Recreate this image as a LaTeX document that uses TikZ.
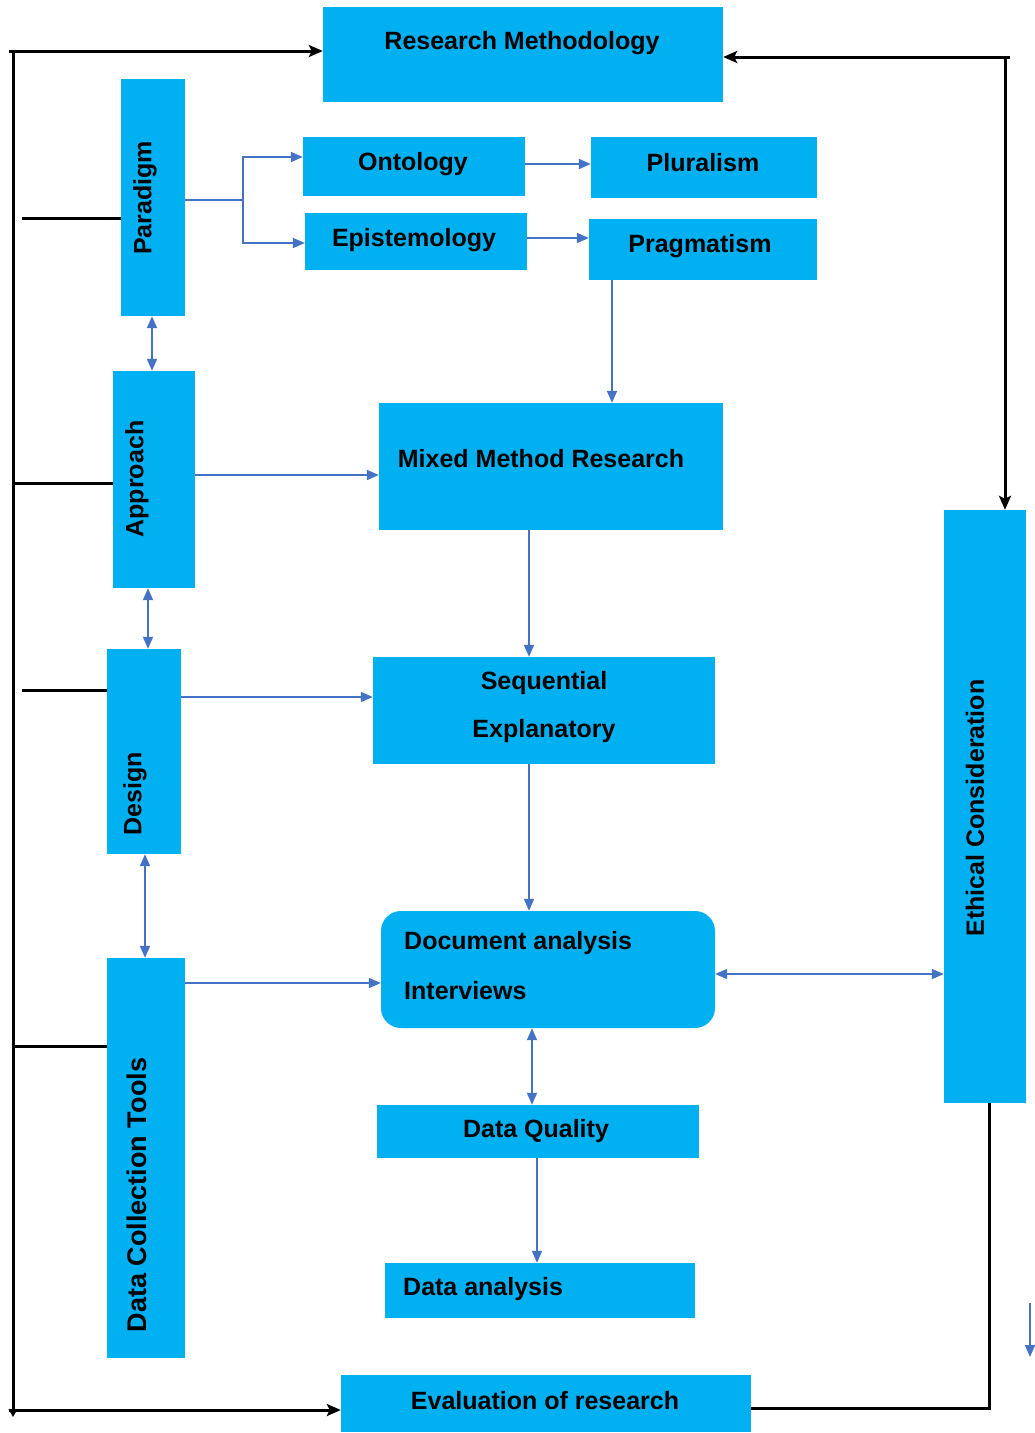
\documentclass[tikz,border=0pt]{standalone}
\usepackage{fontspec}
\setmainfont{Liberation Sans}
\usetikzlibrary{arrows.meta}
\definecolor{boxblue}{HTML}{00B0F0}
\definecolor{lineblue}{HTML}{4472C4}
\begin{document}
\begin{tikzpicture}[x=1pt,y=-1pt,
  box/.style={fill=boxblue, draw=none, inner sep=0pt, anchor=center},
  txt/.style={font=\fontsize{25}{48}\selectfont\bfseries, inner sep=0pt, text=black},
  blk/.style={draw=black, line width=3pt},
  blkarr/.style={blk, -{Stealth[length=14pt,width=12pt,inset=3pt]}},
  bl/.style={draw=lineblue, line width=1.8pt},
  blarr/.style={bl, -{Triangle[length=12pt,width=10pt]}},
  bldbl/.style={bl, {Triangle[length=12pt,width=10pt]}-{Triangle[length=12pt,width=10pt]}},
]
\useasboundingbox[fill=white] (0,0) rectangle (1034,1433);

% boxes
\node[box, minimum width=400pt, minimum height=95pt] (rm) at (523,54.5) {};
\node[txt] (rmt) at (522,43) {Research Methodology};
\node[box, minimum width=64pt, minimum height=237pt] (par) at (153,197.5) {};
\node[txt, rotate=90] (part) at (145,198) {Paradigm};
\node[box, minimum width=222pt, minimum height=59pt] (ont) at (414,166.5) {};
\node[txt] (ontt) at (413,164) {Ontology};
\node[box, minimum width=222pt, minimum height=57pt] (epi) at (416,241.5) {};
\node[txt] (epit) at (414,240) {Epistemology};
\node[box, minimum width=226pt, minimum height=61pt] (plu) at (704,167.5) {};
\node[txt] (plut) at (703,163) {Pluralism};
\node[box, minimum width=228pt, minimum height=61pt] (pra) at (703,249.5) {};
\node[txt] (prat) at (700,246) {Pragmatism};
\node[box, minimum width=82pt, minimum height=217pt] (app) at (154,479.5) {};
\node[txt, rotate=90] (appt) at (137,479) {Approach};
\node[box, minimum width=344pt, minimum height=127pt] (mmr) at (551,466.5) {};
\node[txt] (mmrt) at (541,459) {Mixed Method Research};
\node[box, minimum width=74pt, minimum height=205pt] (des) at (144,751.5) {};
\node[txt, rotate=90] (dest) at (135,794) {Design};
\node[box, minimum width=342pt, minimum height=107pt] (se) at (544,710.5) {};
\node[txt] (set1) at (544,683) {Sequential};
\node[txt] (set2) at (544,731) {Explanatory};
\node[box, minimum width=334pt, minimum height=117pt, rounded corners=20pt] (doc) at (548,969.5) {};
\node[txt, anchor=west] (doct1) at (404,943) {Document analysis};
\node[txt, anchor=west] (doct2) at (404,991) {Interviews};
\node[box, minimum width=78pt, minimum height=400pt] (dct) at (146,1158) {};
\node[txt, rotate=90, font=\fontsize{27}{30}\selectfont\bfseries] (dctt) at (137,1195) {Data Collection Tools};
\node[box, minimum width=82pt, minimum height=593pt] (eth) at (985,806.5) {};
\node[txt, rotate=90] (etht) at (975,808) {Ethical Consideration};
\node[box, minimum width=322pt, minimum height=53pt] (dq) at (538,1131.5) {};
\node[txt] (dqt) at (536,1131) {Data Quality};
\node[box, minimum width=310pt, minimum height=55pt] (da) at (540,1290.5) {};
\node[txt, anchor=west] (dat) at (403,1289) {Data analysis};
\node[box, minimum width=410pt, minimum height=57pt] (ev) at (546,1403.5) {};
\node[txt] (evt) at (545,1401) {Evaluation of research};

% helper coordinates
\coordinate (tl) at (13,51);
\coordinate (tl0) at (9,51);
\coordinate (blend) at (13,1417);
\coordinate (bl0) at (9,1410);
\coordinate (tr) at (1005,57);
\coordinate (tr0) at (1010,57);
\coordinate (br) at (989,1408);
\coordinate (b1) at (22,218);
\coordinate (b2) at (15,483);
\coordinate (b3) at (22,690);
\coordinate (b4) at (13,1046);
\coordinate (fk) at (243,200);
\coordinate (fu) at (243,157);
\coordinate (fd) at (243,243);
\coordinate (op) at (527,164);
\coordinate (ep) at (529,238);
\coordinate (pm) at (612,300);
\coordinate (pa) at (152,340);
\coordinate (am) at (195,475);
\coordinate (ad) at (148,620);
\coordinate (ms) at (529,600);
\coordinate (ds) at (178,697);
\coordinate (dd) at (145,900);
\coordinate (sd) at (529,840);
\coordinate (cd) at (188,983);
\coordinate (de) at (800,974);
\coordinate (dqx) at (532,1060);
\coordinate (qa) at (537,1200);
\coordinate (s1) at (1030,1303);
\coordinate (s2) at (1030,1357);

% black frame connectors
\draw[blk, -{Stealth[length=8pt,width=9pt,inset=2pt]}] (tl) -- (blend);
\draw[blkarr] (tl0) -- (tl0 -| rm.west);
\draw[blkarr] (bl0) -- (bl0 -| ev.west);
\draw[blk] (b1) -- (b1 -| par.west);
\draw[blk] (b2) -- (b2 -| app.west);
\draw[blk] (b3) -- (b3 -| des.west);
\draw[blk] (b4) -- (b4 -| dct.west);
\draw[blkarr] (tr0) -- (tr0 -| rm.east);
\draw[blkarr] (tr) -- (tr |- eth.north);
\draw[blk] (br |- eth.south) -- (br) -- (br -| ev.east);

% blue connectors
\draw[bl] (fk -| par.east) -- (fk);
\draw[blarr] (fk) -- (fu) -- (fu -| ont.west);
\draw[blarr] (fk) -- (fd) -- (fd -| epi.west);
\draw[blarr] (op -| ont.east) -- (op -| plu.west);
\draw[blarr] (ep -| epi.east) -- (ep -| pra.west);
\draw[blarr] (pm |- pra.south) -- (pm |- mmr.north);
\draw[bldbl] (pa |- par.south) -- (pa |- app.north);
\draw[blarr] (am -| app.east) -- (am -| mmr.west);
\draw[bldbl] (ad |- app.south) -- (ad |- des.north);
\draw[blarr] (ms |- mmr.south) -- (ms |- se.north);
\draw[blarr] (ds -| des.east) -- (ds -| se.west);
\draw[bldbl] (dd |- des.south) -- (dd |- dct.north);
\draw[blarr] (sd |- se.south) -- (sd |- doc.north);
\draw[blarr] (cd -| dct.east) -- (cd -| doc.west);
\draw[bldbl] (de -| doc.east) -- (de -| eth.west);
\draw[bldbl] (dqx |- doc.south) -- (dqx |- dq.north);
\draw[blarr] (qa |- dq.south) -- (qa |- da.north);
\draw[blarr] (s1) -- (s2);
\end{tikzpicture}
\end{document}
